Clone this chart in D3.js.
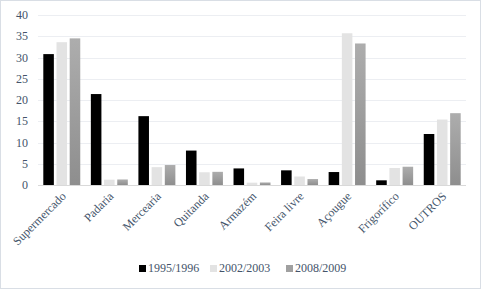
<!DOCTYPE html>
<html>
<head>
<meta charset="utf-8">
<script src="https://d3js.org/d3.v7.min.js"></script>
<style>
  body { margin: 0; background: #fff; }
  svg { display: block; font-family: "Liberation Serif", "Times New Roman", serif; }
</style>
</head>
<body>
<script>
// categories and series
var categories = ["Supermercado", "Padaria", "Mercearia", "Quitanda", "Armazém", "Feira livre", "Açougue", "Frigorífico", "OUTROS"];
var seriesNames = ["1995/1996", "2002/2003", "2008/2009"];
var s1995 = [30.8, 21.4, 16.2, 8.1, 3.9, 3.45, 3.05, 1.1, 12.0];
var s2002 = [33.6, 1.25, 4.2, 3.0, 0.55, 2.0, 35.7, 4.0, 15.4];
var s2008 = [34.5, 1.3, 4.7, 3.1, 0.6, 1.4, 33.3, 4.3, 16.9];
var yTicks = [0, 5, 10, 15, 20, 25, 30, 35, 40];

var W = 481, H = 289;
var margin = {top: 15, right: 15, bottom: 104, left: 38};
var width = W - margin.left - margin.right,
    height = H - margin.top - margin.bottom;

var svg = d3.select("body").append("svg")
  .attr("width", W)
  .attr("height", H);

svg.append("rect")
  .attr("x", 0.5).attr("y", 0.5)
  .attr("width", W - 1).attr("height", H - 1)
  .attr("fill", "#fff")
  .attr("stroke", "#d9dee5");

var defs = svg.append("defs");
var grad = defs.append("linearGradient")
  .attr("id", "darkGrad")
  .attr("x1", 0).attr("y1", 0).attr("x2", 0).attr("y2", 1);
grad.append("stop").attr("offset", "0%").attr("stop-color", "#adadad");
grad.append("stop").attr("offset", "100%").attr("stop-color", "#8e8e8e");

var colors = ["#000000", "#e3e3e3", "url(#darkGrad)"];
var legendColors = ["#000000", "#e3e3e3", "#a0a0a0"];

var g = svg.append("g")
  .attr("transform", "translate(" + margin.left + "," + margin.top + ")");

var x = d3.scaleBand()
  .domain(categories)
  .range([0, width])
  .paddingInner(0)
  .paddingOuter(0);

var xInner = d3.scaleBand()
  .domain([0, 1, 2])
  .range([5.3, x.bandwidth() - 5.3])
  .paddingInner(0.2);

var y = d3.scaleLinear()
  .domain([0, 40])
  .range([height, 0]);

// gridlines
g.append("g")
  .selectAll("line")
  .data(yTicks)
  .enter().append("line")
  .attr("x1", 0).attr("x2", width)
  .attr("y1", d => Math.round(y(d)) + 0.5)
  .attr("y2", d => Math.round(y(d)) + 0.5)
  .attr("stroke", d => d === 0 ? "#d9d9d9" : "#eceef2")
  .attr("stroke-width", 1);

// y labels
g.append("g")
  .selectAll("text")
  .data(yTicks)
  .enter().append("text")
  .attr("x", -10)
  .attr("y", d => y(d))
  .attr("dy", "0.35em")
  .attr("text-anchor", "end")
  .attr("fill", "#44546a")
  .style("font-size", "12px")
  .text(d => d);

var allSeries = [s1995, s2002, s2008];

var groups = g.selectAll(".grp")
  .data(categories)
  .enter().append("g")
  .attr("class", "grp")
  .attr("transform", d => "translate(" + x(d) + ",0)");

groups.each(function(c, i) {
  var grp = d3.select(this);
  allSeries.forEach(function(s, k) {
    grp.append("rect")
      .attr("x", xInner(k))
      .attr("width", xInner.bandwidth())
      .attr("y", y(s[i]))
      .attr("height", height - y(s[i]))
      .attr("fill", colors[k]);
  });
});

// rotated x labels
g.append("g")
  .selectAll("text")
  .data(categories)
  .enter().append("text")
  .attr("text-anchor", "end")
  .attr("transform", d => "translate(" + (x(d) + x.bandwidth() / 2 + 5) + "," + (height + 12) + ") rotate(-45)")
  .attr("fill", "#44546a")
  .style("font-size", "12px")
  .text(d => d);

// legend
var legendX = [139, 210, 286];
var legend = svg.append("g");
seriesNames.forEach(function(name, k) {
  legend.append("rect")
    .attr("x", legendX[k])
    .attr("y", 265)
    .attr("width", 7)
    .attr("height", 7)
    .attr("fill", legendColors[k]);
  legend.append("text")
    .attr("x", legendX[k] + 9)
    .attr("y", 272)
    .attr("fill", "#44546a")
    .style("font-size", "12px")
    .text(name);
});
</script>
</body>
</html>
